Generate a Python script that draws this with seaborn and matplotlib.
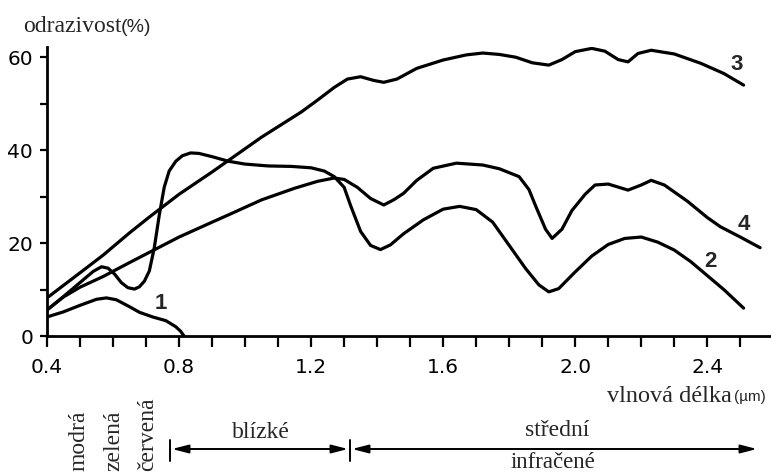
import numpy as np
import pandas as pd
import matplotlib
matplotlib.use("Agg")
import matplotlib.pyplot as plt
import seaborn as sns

# ---- data ----
x1 = [0.40, 0.45, 0.50, 0.55, 0.58, 0.61, 0.65, 0.68, 0.72, 0.76, 0.79, 0.805, 0.815]
y1 = [4.1, 5.2, 6.6, 7.9, 8.2, 7.8, 6.3, 5.1, 4.1, 3.3, 2.0, 1.0, 0.0]

x2 = [0.40, 0.45, 0.50, 0.54, 0.565, 0.585, 0.605, 0.625, 0.645, 0.665, 0.68, 0.695,
      0.71, 0.725, 0.74, 0.755, 0.77, 0.79, 0.81, 0.835, 0.86, 0.90, 0.95, 1.00, 1.07,
      1.14, 1.20, 1.24, 1.27, 1.30, 1.32, 1.35, 1.38, 1.41, 1.44, 1.48, 1.54, 1.60,
      1.65, 1.70, 1.75, 1.80, 1.85, 1.89, 1.92, 1.95, 2.00, 2.05, 2.10, 2.15, 2.20,
      2.25, 2.30, 2.35, 2.40, 2.45, 2.51]
y2 = [5.6, 8.5, 11.5, 13.9, 14.9, 14.6, 13.3, 11.5, 10.4, 10.1, 10.6, 11.8,
      14.0, 19.0, 26.0, 32.0, 35.5, 37.6, 38.8, 39.4, 39.3, 38.6, 37.6, 37.0, 36.6,
      36.5, 36.2, 35.5, 34.3, 32.0, 28.0, 22.5, 19.5, 18.6, 19.6, 22.0, 25.0, 27.3,
      27.9, 27.2, 24.5, 19.5, 14.5, 11.0, 9.5, 10.2, 13.8, 17.2, 19.7, 21.0, 21.3,
      20.2, 18.5, 16.0, 13.0, 10.0, 6.0]

x3 = [0.40, 0.50, 0.57, 0.65, 0.71, 0.80, 0.90, 0.95, 1.05, 1.17, 1.22, 1.27, 1.31,
      1.35, 1.39, 1.42, 1.46, 1.52, 1.60, 1.67, 1.72, 1.77, 1.82, 1.87, 1.92, 1.96,
      2.00, 2.05, 2.09, 2.13, 2.16, 2.19, 2.23, 2.30, 2.38, 2.45, 2.51]
y3 = [8.2, 13.6, 17.4, 22.2, 25.6, 30.5, 35.3, 37.8, 42.8, 48.2, 50.8, 53.5, 55.3,
      55.8, 55.0, 54.6, 55.3, 57.6, 59.4, 60.5, 60.9, 60.6, 60.0, 58.8, 58.3, 59.5,
      61.2, 61.9, 61.3, 59.5, 59.0, 60.8, 61.5, 60.7, 58.7, 56.5, 54.0]

x4 = [0.40, 0.45, 0.50, 0.57, 0.65, 0.71, 0.80, 0.90, 0.96, 1.05, 1.15, 1.22, 1.27,
      1.30, 1.34, 1.38, 1.42, 1.45, 1.48, 1.52, 1.57, 1.64, 1.72, 1.77, 1.83, 1.86,
      1.88, 1.91, 1.93, 1.96, 1.99, 2.03, 2.06, 2.10, 2.16, 2.20, 2.23, 2.27, 2.34,
      2.40, 2.44, 2.50, 2.56]
y4 = [5.6, 8.4, 10.5, 12.8, 15.8, 18.0, 21.3, 24.5, 26.4, 29.3, 31.8, 33.3, 34.0,
      33.7, 32.0, 29.6, 28.2, 29.3, 30.7, 33.5, 36.1, 37.2, 36.8, 36.0, 34.3, 31.5,
      28.0, 23.0, 21.0, 23.0, 27.0, 30.5, 32.5, 32.7, 31.4, 32.5, 33.5, 32.5, 29.0,
      25.5, 23.5, 21.3, 19.0]

curve_labels = ["1", "2", "3", "4"]
label_x = [0.745, 2.41, 2.49, 2.51]
label_y = [7.0, 16.0, 58.5, 24.0]

y_major = [0, 20, 40, 60]
y_minor = [10, 30, 50]
x_major = [0.4, 0.8, 1.2, 1.6, 2.0, 2.4]
x_major_labels = ["0.4", "0.8", "1.2", "1.6", "2.0", "2.4"]

# ---- figure ----
sns.set_style("ticks")
plt.rcParams["font.family"] = ["DejaVu Sans"]
W, H = 771, 473
fig = plt.figure(figsize=(W / 100, H / 100), dpi=100)
ax = fig.add_axes([47 / W, (H - 336) / H, (770 - 47) / W, (336 - 47) / H])

lw = 2.3
for xs, ys in [(x1, y1), (x2, y2), (x3, y3), (x4, y4)]:
    df = pd.DataFrame({"x": xs, "y": ys})
    sns.lineplot(data=df, x="x", y="y", ax=ax, color="black", lw=lw,
                 sort=False, estimator=None, solid_joinstyle="round",
                 solid_capstyle="round")

ax.set_xlim(0.4, 2.59)
ax.set_ylim(0, 62.2)
ax.set_xlabel("")
ax.set_ylabel("")

sns.despine(ax=ax)
for s in ["left", "bottom"]:
    ax.spines[s].set_linewidth(2.0)
    ax.spines[s].set_color("black")

ax.set_yticks(y_major)
ax.set_yticklabels([str(v) for v in y_major])
ax.set_yticks(y_minor, minor=True)
ax.set_xticks(x_major)
ax.set_xticklabels(x_major_labels)
ax.set_xticks(np.round(np.arange(0.4, 2.55, 0.1), 2), minor=True)
ax.tick_params(axis="y", which="both", direction="out", length=5, width=1.6,
               labelsize=14.5, pad=5, colors="black")
ax.tick_params(axis="x", which="both", direction="out", length=8, width=1.6,
               labelsize=14.5, pad=8, colors="black")

for t, lx, ly in zip(curve_labels, label_x, label_y):
    ax.text(lx, ly, t, fontsize=16, fontweight="bold",
            family="Liberation Sans", ha="center", va="center")

def fx(px):
    return px / W

def fy(py):
    return 1 - py / H

serif = "Liberation Serif"
fig.text(fx(23), fy(32), "odrazivost", family=serif, fontsize=17, va="baseline", ha="left")
fig.text(fx(121), fy(32), "(%)", family="Liberation Sans", fontsize=14, va="baseline", ha="left")

fig.text(fx(732), fy(402), "vlnová délka", family=serif, fontsize=17.5, va="baseline", ha="right")
fig.text(fx(734), fy(401), "(µm)", family="Liberation Sans", fontsize=11, va="baseline", ha="left")

for t, px in [("modrá", 79), ("zelená", 114), ("červená", 148)]:
    fig.text(fx(px), fy(471), t, family=serif, fontsize=17, rotation=90,
             ha="center", va="bottom")

fig.text(fx(261), fy(438), "blízké", family=serif, fontsize=17, ha="center", va="baseline")
fig.text(fx(557), fy(436), "střední", family=serif, fontsize=17, ha="center", va="baseline")
fig.text(fx(553), fy(468), "infračené", family=serif, fontsize=16.5, ha="center", va="baseline")

ay = 449
aprops = dict(arrowstyle="<|-|>,head_length=0.7,head_width=0.18", color="black",
              lw=1.4, shrinkA=0, shrinkB=0, mutation_scale=14)
ax.annotate("", xy=(fx(348), fy(ay)), xytext=(fx(172), fy(ay)),
            xycoords="figure fraction", textcoords="figure fraction",
            arrowprops=aprops, annotation_clip=False)
ax.annotate("", xy=(fx(757), fy(ay)), xytext=(fx(352), fy(ay)),
            xycoords="figure fraction", textcoords="figure fraction",
            arrowprops=aprops, annotation_clip=False)
for bx in [170, 350]:
    fig.add_artist(plt.Line2D([fx(bx), fx(bx)], [fy(440), fy(461)],
                              transform=fig.transFigure, color="black", lw=1.4))

fig.savefig("out.png", dpi=100)
